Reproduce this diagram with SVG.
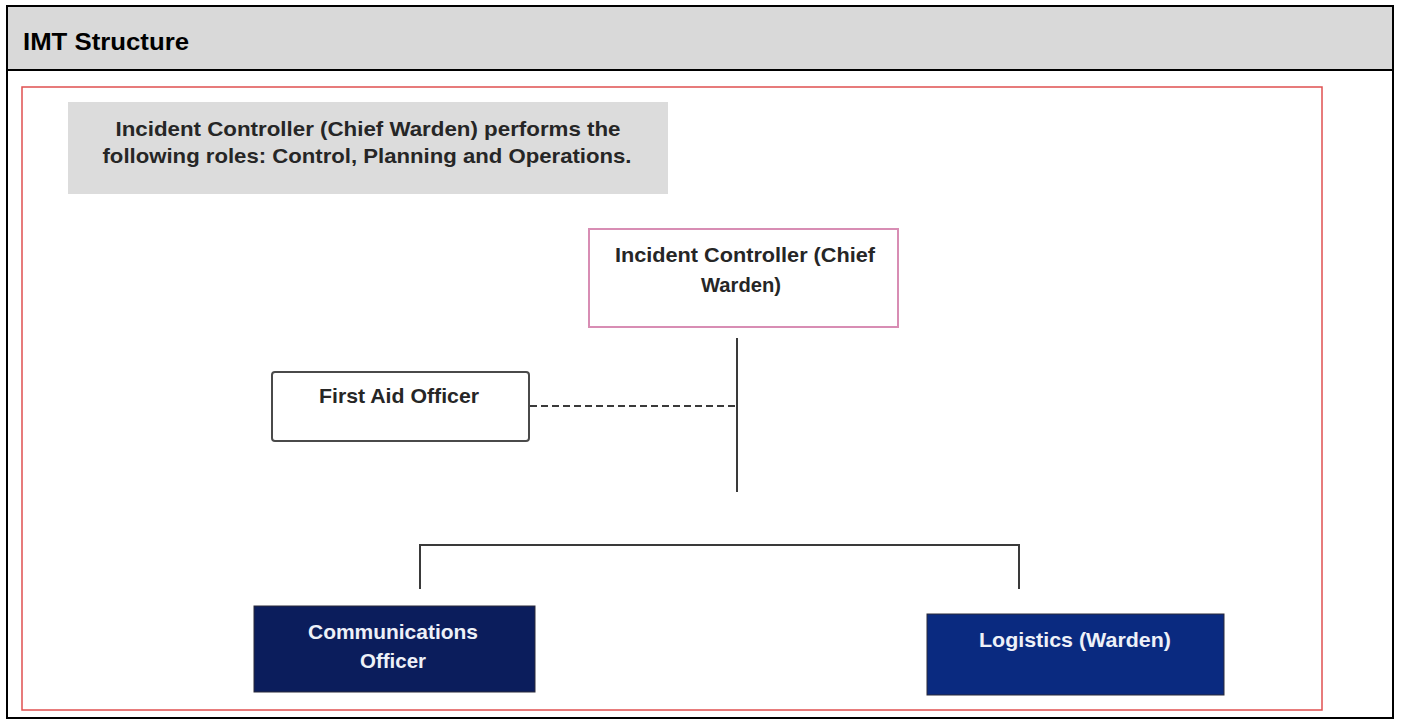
<svg xmlns="http://www.w3.org/2000/svg" width="1402" height="724" viewBox="0 0 1402 724">
<style>
.t{font-family:"Liberation Sans",Arial,sans-serif;font-weight:bold;fill:#262626}
.n{font-size:21px;text-anchor:middle}
.w{fill:#eef1f8}
.c{stroke:#3a3a3a;stroke-width:2;fill:none}
</style>
<rect x="0" y="0" width="1402" height="724" fill="#fff"/>
<g id="table">
<rect x="7" y="6" width="1386" height="64" fill="#d9d9d9"/>
<rect x="7" y="6" width="1386" height="712" fill="none" stroke="#000" stroke-width="2"/>
<line x1="7" y1="70" x2="1393" y2="70" stroke="#000" stroke-width="2"/>
<text x="23" y="50" font-family="Liberation Sans, Arial, sans-serif" font-weight="bold" font-size="24" fill="#000" textLength="166" lengthAdjust="spacingAndGlyphs">IMT Structure</text>
</g>
<rect id="frame" x="22" y="87" width="1300" height="623" fill="none" stroke="#e05050" stroke-width="1.5"/>
<g id="note">
<rect x="68" y="102" width="600" height="92" fill="#dcdcdc"/>
<text class="t" x="368" y="136" font-size="20.5" text-anchor="middle" textLength="505" lengthAdjust="spacingAndGlyphs">Incident Controller (Chief Warden) performs the</text>
<text class="t" x="367" y="163" font-size="20.5" text-anchor="middle" textLength="529" lengthAdjust="spacingAndGlyphs">following roles:  Control, Planning and Operations.</text>
</g>
<g id="connectors">
<line class="c" x1="737" y1="338" x2="737" y2="492"/>
<line class="c" x1="530" y1="406" x2="737" y2="406" stroke-dasharray="7,4"/>
<polyline class="c" points="420,589 420,545 1019,545 1019,589"/>
</g>
<g id="ic">
<rect x="589" y="229" width="309" height="98" fill="#fff" stroke="#d88db4" stroke-width="2"/>
<text class="t n" x="745" y="262" textLength="260" lengthAdjust="spacingAndGlyphs">Incident Controller (Chief</text>
<text class="t n" x="741" y="292" textLength="80" lengthAdjust="spacingAndGlyphs">Warden)</text>
</g>
<g id="firstaid">
<rect x="272" y="372" width="257" height="69" fill="#fff" stroke="#4a4a4a" stroke-width="2" rx="3"/>
<text class="t n" x="399" y="403" textLength="160" lengthAdjust="spacingAndGlyphs">First Aid Officer</text>
</g>
<g id="comms">
<rect x="254" y="606" width="281" height="86" fill="#0b1d5c" stroke="#2a2a3a" stroke-width="1"/>
<text class="t n w" x="393" y="639" textLength="170" lengthAdjust="spacingAndGlyphs">Communications</text>
<text class="t n w" x="393" y="668" textLength="66" lengthAdjust="spacingAndGlyphs">Officer</text>
</g>
<g id="logistics">
<rect x="927" y="614" width="297" height="81" fill="#0a2a80" stroke="#2a2a3a" stroke-width="1"/>
<text class="t n w" x="1075" y="647" textLength="192" lengthAdjust="spacingAndGlyphs">Logistics (Warden)</text>
</g>
</svg>
